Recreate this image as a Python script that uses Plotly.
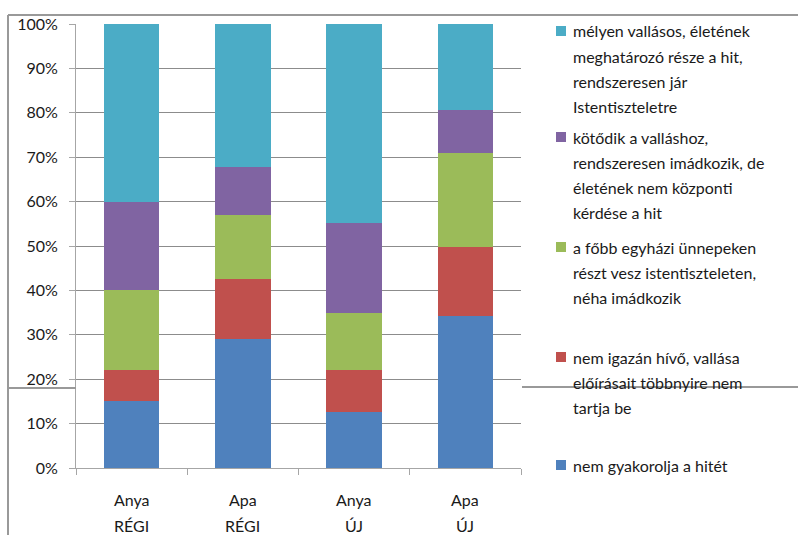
import plotly.graph_objects as go

categories = ['Anya RÉGI', 'Apa RÉGI', 'Anya ÚJ', 'Apa ÚJ']
cat_lines = [['Anya', 'RÉGI'], ['Apa', 'RÉGI'], ['Anya', 'ÚJ'], ['Apa', 'ÚJ']]

series_names = [
    'nem gyakorolja a hitét',
    'nem igazán hívő, vallása\nelőírásait többnyire nem\ntartja be',
    'a főbb egyházi ünnepeken\nrészt vesz istentiszteleten,\nnéha imádkozik',
    'kötődik a valláshoz,\nrendszeresen imádkozik, de\néletének nem központi\nkérdése a hit',
    'mélyen vallásos, életének\nmeghatározó része a hit,\nrendszeresen jár\nIstentiszteletre',
]
colors = ['#4F81BD', '#C0504D', '#9BBB59', '#8064A2', '#4BACC6']

nem_gyakorolja = [15.0, 29.0, 12.7, 34.3]
nem_igazan = [7.0, 13.6, 9.4, 15.5]
fobb_unnepeken = [18.0, 14.4, 12.8, 21.1]
kotodik = [20.0, 10.9, 20.3, 9.8]
melyen = [40.0, 32.1, 44.8, 19.3]
values = [nem_gyakorolja, nem_igazan, fobb_unnepeken, kotodik, melyen]

W, H = 798, 535
L, R, T, B = 76, 521, 24, 468   # plot area in px
FONT = 'Lato'
FS = 16


def px_x(x):
    return (x - L) / (R - L)


def px_y(y):
    return (B - y) / (B - T)


fig = go.Figure()
for name, vals, c in zip(series_names, values, colors):
    fig.add_trace(go.Bar(x=categories, y=vals, name=name.replace('\n', ' '),
                         marker=dict(color=c, line=dict(width=0))))

fig.update_layout(
    barmode='stack', bargap=0.5, showlegend=False,
    width=W, height=H, margin=dict(l=L, r=W - R, t=T, b=H - B),
    paper_bgcolor='white', plot_bgcolor='white',
    font=dict(family=FONT, size=FS, color='#1a1a1a'),
)
fig.update_yaxes(range=[0, 100], dtick=10, ticksuffix='%', showgrid=True,
                 gridcolor='#8c8c8c', gridwidth=1, showline=True, linecolor='#a6a6a6',
                 ticks='outside', ticklen=6, tickcolor='#a6a6a6', zeroline=False,
                 ticklabelstandoff=8)
fig.update_xaxes(showticklabels=False, tickson='boundaries', ticks='outside', ticklen=6,
                 tickcolor='#a6a6a6', showline=True, linecolor='#a6a6a6', showgrid=False)

# category labels (two lines)
for cat, lines in zip(categories, cat_lines):
    for k, t in enumerate(lines):
        fig.add_annotation(x=cat, xref='x', y=px_y(500 + 25 * k), yref='paper', text=t,
                           showarrow=False, xanchor='center', yanchor='middle',
                           font=dict(family=FONT, size=FS, color='#1a1a1a'))

# legend, top item first
legend_y = [465, 357, 247, 137, 31]
for name, c, y0 in zip(series_names, colors, legend_y):
    fig.add_shape(type='rect', xref='paper', yref='paper',
                  x0=px_x(556), x1=px_x(566), y0=px_y(y0 - 5), y1=px_y(y0 + 5),
                  fillcolor=c, line=dict(width=0))
    for k, t in enumerate(name.split('\n')):
        fig.add_annotation(x=px_x(571), y=px_y(y0 + 25 * k), xref='paper', yref='paper',
                           text=t, showarrow=False, xanchor='left', yanchor='middle',
                           font=dict(family=FONT, size=FS, color='#1a1a1a'))

# frame fragments visible in the original image
frame = [(8, 388, 76, 388), (522, 387, 798, 387), (8, 15, 8, 535), (8, 15, 798, 15)]
for x0, y0, x1, y1 in frame:
    fig.add_shape(type='line', xref='paper', yref='paper',
                  x0=px_x(x0), x1=px_x(x1), y0=px_y(y0), y1=px_y(y1),
                  line=dict(color='#999999', width=2))

fig.write_html('out.html', config={'displayModeBar': False},
               post_script="document.body.style.margin='0';")
